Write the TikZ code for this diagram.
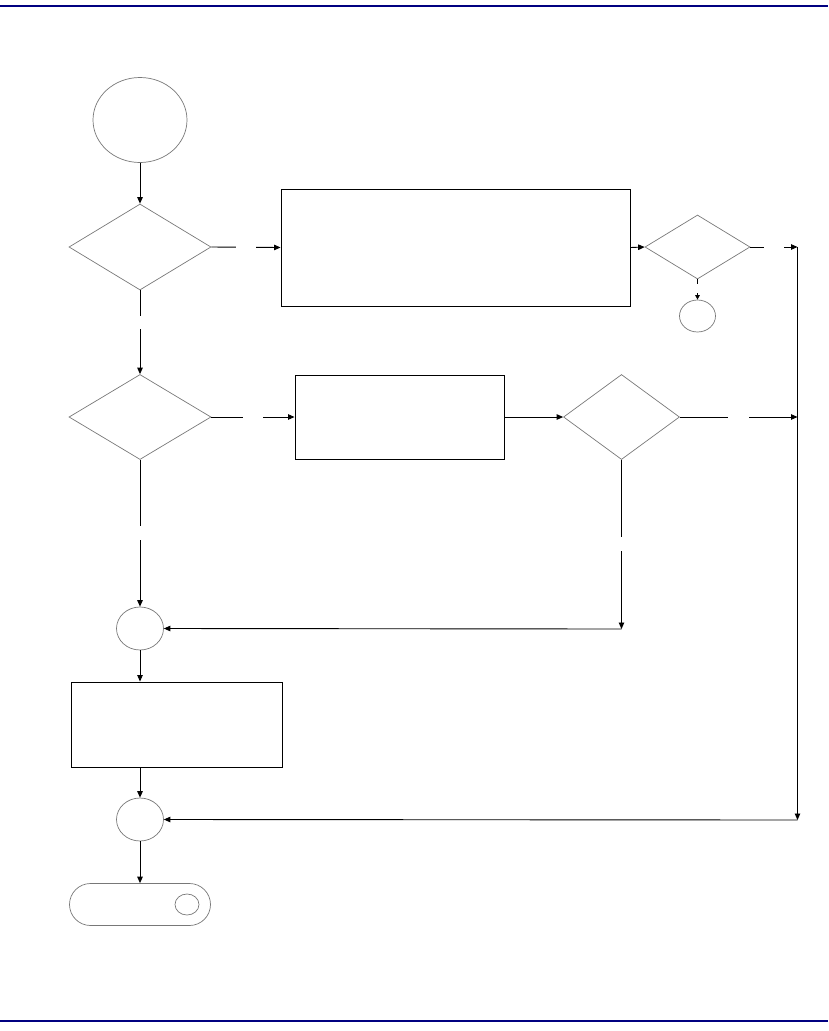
\documentclass[tikz,border=0pt]{standalone}
\usetikzlibrary{arrows.meta,shapes.geometric}
\definecolor{navyrule}{RGB}{0,0,128}
\definecolor{outline}{RGB}{120,120,120}
\tikzset{
  flow/.style={draw=outline, line width=0.7pt, inner sep=0pt},
  dec/.style={flow, diamond},
  oval/.style={flow, ellipse},
  procbox/.style={draw=black, line width=0.9pt, rectangle, inner sep=0pt},
  conn/.style={draw=black, line width=0.9pt, -{Triangle[length=6.5pt,width=5.5pt]}},
  smallconn/.style={draw=black, line width=0.9pt, -{Triangle[length=4.5pt,width=4.5pt]}},
  gap/.style={fill=white, inner sep=0pt, minimum width=3pt, minimum height=3pt},
  rule/.style={draw=navyrule, line width=2pt}
}
\begin{document}
\begin{tikzpicture}[x=1pt,y=-1pt]
\useasboundingbox (0,0) rectangle (828,1031);
\coordinate (tl) at (0,6); \coordinate (tr) at (828,6);
\coordinate (bl) at (0,1021); \coordinate (br) at (828,1021);
\draw[rule] (tl) -- (tr);
\draw[rule] (bl) -- (br);

\node[oval, minimum width=94pt, minimum height=85pt] (start) at (140,120) {};
\node[dec, minimum width=142pt, minimum height=86pt] (d1) at (140,247) {};
\node[procbox, minimum width=349pt, minimum height=117pt] (b1) at (455.5,247.5) {};
\node[dec, minimum width=105pt, minimum height=64pt] (d4) at (697.5,247) {};
\node[oval, minimum width=36pt, minimum height=32pt] (sc) at (697.5,316) {};
\node[dec, minimum width=142pt, minimum height=85pt] (d2) at (140,417) {};
\node[procbox, minimum width=209pt, minimum height=84pt] (b2) at (399.5,417) {};
\node[dec, minimum width=116pt, minimum height=85pt] (d3) at (621.5,417) {};
\node[oval, minimum width=47pt, minimum height=43pt] (c1) at (140,628.5) {};
\node[procbox, minimum width=211pt, minimum height=85pt] (b3) at (176.5,724.5) {};
\node[oval, minimum width=47pt, minimum height=43pt] (c2) at (140,819.5) {};
\node[flow, rectangle, rounded corners=21pt, minimum width=141pt, minimum height=42pt] (term) at (140,904.5) {};
\node[oval, minimum width=24pt, minimum height=21pt] (tc) at (187,904.5) {};

\coordinate (r1) at (797.5,247);
\coordinate (r2) at (797.5,417);
\coordinate (r3) at (797.5,820);
\coordinate (corner) at (621.5,629);

\draw[conn] (start.south) -- (d1.north);
\draw[conn] (d1.east) -- node[gap, minimum width=20pt]{} (b1.west);
\draw[conn] (b1.east) -- (d4.west);
\draw[conn] (d4.east) -- node[gap, minimum width=20pt]{} (r1);
\draw[smallconn] (d4.south) -- node[gap, pos=0.45, minimum height=9pt]{} (sc.north);
\draw[conn] (d1.south) -- node[gap, pos=0.38, minimum height=13pt]{} (d2.north);
\draw[conn] (d2.east) -- node[gap, minimum width=20pt]{} (b2.west);
\draw[conn] (b2.east) -- (d3.west);
\draw[conn] (d3.east) -- node[gap, minimum width=21pt]{} (r2);
\draw[conn] (d2.south) -- node[gap, minimum height=14pt]{} (c1.north);
\draw[conn] (d3.south) -- node[gap, minimum height=14pt]{} (corner);
\draw[conn] (corner) -- (c1.east);
\draw[conn] (r1) -- (r3);
\draw[conn] (r3) -- (c2.east);
\draw[conn] (c1.south) -- (c1.south |- b3.north);
\draw[conn] (c2.north |- b3.south) -- (c2.north);
\draw[conn] (c2.south) -- (term.north);
\end{tikzpicture}
\end{document}
